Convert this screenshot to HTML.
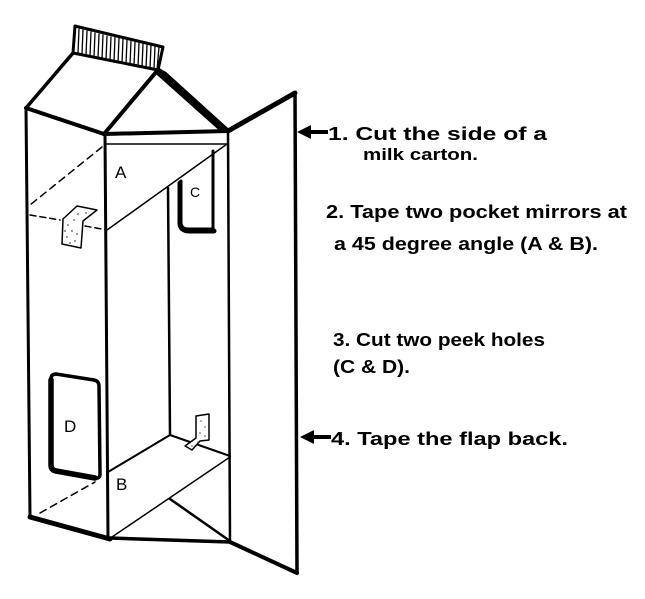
<!DOCTYPE html>
<html><head><meta charset="utf-8"><style>
html,body{margin:0;padding:0;background:#fff;}
svg{display:block;}
text{font-family:"Liberation Sans",sans-serif;font-weight:bold;fill:#000;}
</style></head><body>
<svg width="645" height="599" viewBox="0 0 645 599" xmlns="http://www.w3.org/2000/svg">
<rect width="645" height="599" fill="#fff"/>
<g stroke="#000" fill="none" stroke-linecap="round" stroke-linejoin="round">
<!-- cap -->
<polygon points="75,26 163,47 158,70 73,53" stroke-width="3" fill="#fff"/>
<g stroke-width="1.3">
<line x1="79" y1="29" x2="78" y2="53"/><line x1="83" y1="30" x2="82" y2="54"/><line x1="87" y1="31" x2="86" y2="55"/>
<line x1="91" y1="32" x2="90" y2="56"/><line x1="95" y1="33" x2="94" y2="57"/><line x1="99" y1="34" x2="98" y2="58"/>
<line x1="103" y1="35" x2="102" y2="59"/><line x1="107" y1="36" x2="106" y2="60"/><line x1="111" y1="37" x2="110" y2="61"/>
<line x1="115" y1="37" x2="114" y2="62"/><line x1="119" y1="38" x2="118" y2="63"/><line x1="123" y1="39" x2="122" y2="63"/>
<line x1="127" y1="40" x2="126" y2="64"/><line x1="131" y1="41" x2="130" y2="65"/><line x1="135" y1="42" x2="134" y2="66"/>
<line x1="139" y1="43" x2="138" y2="67"/><line x1="143" y1="44" x2="142" y2="67"/><line x1="147" y1="45" x2="146" y2="68"/>
<line x1="151" y1="45" x2="150" y2="69"/><line x1="155" y1="46" x2="154" y2="69"/><line x1="159" y1="47" x2="157" y2="70"/>
</g>
<!-- roof -->
<line x1="73" y1="53" x2="26" y2="108" stroke-width="3.5"/>
<line x1="26" y1="108" x2="104" y2="134" stroke-width="4"/>
<line x1="157" y1="71" x2="104" y2="134" stroke-width="4"/>
<polyline points="158,69 165,73 228,130 222,131 157,73" stroke-width="3" fill="#000"/>
<line x1="104" y1="134" x2="228" y2="131" stroke-width="4"/>
<line x1="228" y1="131" x2="295" y2="93" stroke-width="5"/>
<!-- verticals -->
<line x1="26" y1="108" x2="30" y2="517" stroke-width="3"/>
<line x1="105" y1="135" x2="108" y2="538" stroke-width="3"/>
<line x1="168" y1="188" x2="170" y2="434" stroke-width="2.5"/>
<line x1="228" y1="131" x2="230" y2="541" stroke-width="2.5"/>
<line x1="295" y1="93" x2="297" y2="573" stroke-width="3.5"/>
<!-- bottom -->
<line x1="30" y1="517" x2="110" y2="539" stroke-width="5"/>
<line x1="110" y1="538" x2="230" y2="542" stroke-width="3.5"/>
<line x1="230" y1="542" x2="297" y2="573" stroke-width="4"/>
<line x1="170" y1="499" x2="230" y2="541" stroke-width="2.5"/>
<!-- mirror A -->
<line x1="107" y1="144" x2="227" y2="144" stroke-width="1.5"/>
<line x1="227" y1="144" x2="107" y2="230" stroke-width="1.5"/>
<line x1="102" y1="147" x2="30" y2="205" stroke-width="1.5" stroke-dasharray="7,5"/>
<line x1="30" y1="215" x2="60" y2="220" stroke-width="1.5" stroke-dasharray="6,4"/>
<line x1="85" y1="226" x2="107" y2="230" stroke-width="1.5" stroke-dasharray="6,4"/>
<!-- hole C -->
<path d="M181,181 L181,222 Q181,229 188,229 L213,229 L213,151" stroke-width="3"/>
<path d="M180,183 L180,224 Q181,231 190,231 L214,231" stroke-width="5"/>
<!-- hole D -->
<path d="M56,374 L94,380 Q99,381 99,386 L100,474 Q100,479 95,478 L56,471 Q51,470 51,465 L51,379 Q51,374 56,374 Z" stroke-width="3.5"/>
<path d="M51,380 L51,465 Q51,470 56,471 L95,478" stroke-width="5.5"/>
<!-- dashed bottom -->
<line x1="40" y1="513" x2="95" y2="482" stroke-width="1.5" stroke-dasharray="7,5"/>
<!-- mirror B -->
<line x1="108" y1="472" x2="170" y2="435" stroke-width="2"/>
<line x1="170" y1="435" x2="230" y2="456" stroke-width="2"/>
<line x1="112" y1="537" x2="230" y2="457" stroke-width="1.5"/>
<!-- tape A -->
<polygon points="63,219 77,206 97,210 83,221 81,248 62,244" stroke-width="1.5" fill="#fff"/>
<!-- tape B -->
<polygon points="196,416 209,414 209,440 200,441 192,450 185,446 196,438" stroke-width="1.5" fill="#fff"/>
</g>
<g fill="#555">
<circle cx="68" cy="225" r="0.9"/><circle cx="72" cy="231" r="0.9"/><circle cx="67" cy="237" r="0.9"/><circle cx="75" cy="241" r="0.9"/>
<circle cx="78" cy="214" r="0.9"/><circle cx="86" cy="213" r="0.9"/><circle cx="74" cy="220" r="0.9"/><circle cx="70" cy="243" r="0.9"/>
<circle cx="77" cy="234" r="0.9"/><circle cx="65" cy="231" r="0.9"/>
<circle cx="201" cy="421" r="0.8"/><circle cx="205" cy="427" r="0.8"/><circle cx="200" cy="433" r="0.8"/><circle cx="205" cy="436" r="0.8"/>
<circle cx="192" cy="446" r="0.8"/><circle cx="198" cy="442" r="0.8"/>
</g>
<!-- letters -->
<text x="115" y="178" font-size="17" style="font-weight:normal">A</text>
<text x="190" y="197" font-size="14" style="font-weight:normal">C</text>
<text x="64" y="432" font-size="17" style="font-weight:normal">D</text>
<text x="116" y="490" font-size="17" style="font-weight:normal">B</text>
<!-- arrows -->
<polygon points="297,132 311,125 311,130 328,130 328,134 311,134 311,139" fill="#000"/>
<polygon points="300,437 314,430 314,435 331,435 331,439 314,439 314,444" fill="#000"/>
<!-- text -->
<text x="328" y="140" font-size="18" textLength="219" lengthAdjust="spacingAndGlyphs">1. Cut the side of a</text>
<text x="363" y="160" font-size="17" textLength="115" lengthAdjust="spacingAndGlyphs">milk carton.</text>
<text x="326" y="218" font-size="18" textLength="301" lengthAdjust="spacingAndGlyphs">2. Tape two pocket mirrors at</text>
<text x="334" y="250" font-size="18" textLength="264" lengthAdjust="spacingAndGlyphs">a 45 degree angle (A &amp; B).</text>
<text x="333" y="346" font-size="18" textLength="212" lengthAdjust="spacingAndGlyphs">3. Cut two peek holes</text>
<text x="333" y="373" font-size="18" textLength="77" lengthAdjust="spacingAndGlyphs">(C &amp; D).</text>
<text x="331" y="445" font-size="18" textLength="237" lengthAdjust="spacingAndGlyphs">4. Tape the flap back.</text>
</svg>
</body></html>
